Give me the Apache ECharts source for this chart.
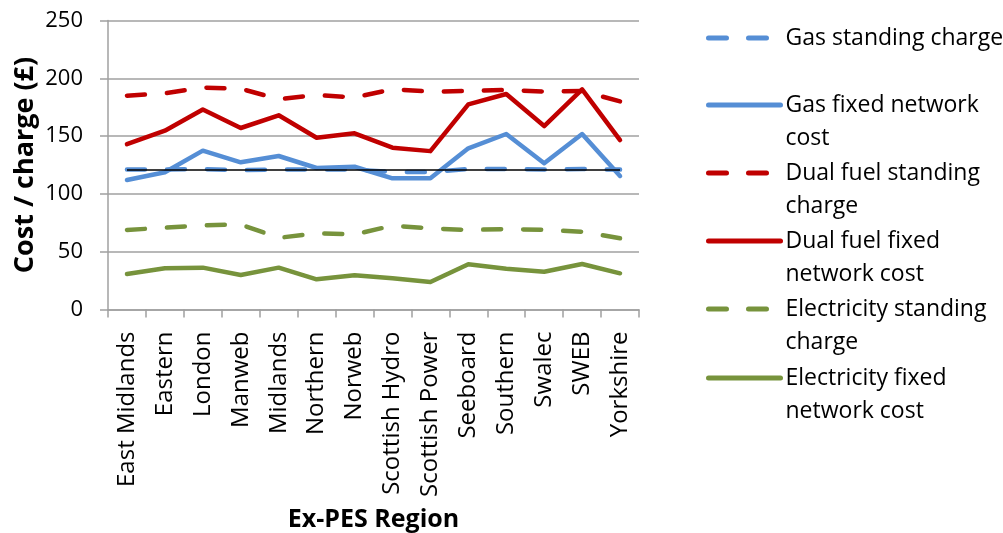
<!DOCTYPE html>
<html>
<head>
<meta charset="utf-8">
<script src="https://cdn.jsdelivr.net/npm/echarts@6/dist/echarts.min.js"></script>
<style>
  html, body { margin: 0; padding: 0; background: #fff; }
  #chart { width: 1003px; height: 533px; }
</style>
</head>
<body>
<div id="chart"></div>
<script>
// Ex-PES regions
const regions = ['East Midlands', 'Eastern', 'London', 'Manweb', 'Midlands', 'Northern', 'Norweb',
  'Scottish Hydro', 'Scottish Power', 'Seeboard', 'Southern', 'Swalec', 'SWEB', 'Yorkshire'];

// Costs / charges in £ per region
const gasStanding      = [121, 121, 121.5, 120.5, 121, 121, 121, 119, 119, 121.5, 121.5, 121, 121.5, 121];
const gasFixed         = [112, 118.7, 137.4, 127.3, 132.8, 122.4, 123.5, 113.5, 113.5, 139.4, 151.8, 126.5, 151.8, 115.5];
const dualStanding     = [185, 187, 192, 191, 182, 185.5, 183.5, 190.5, 188.5, 189, 190, 188.5, 189, 180];
const dualFixed        = [143, 154.7, 173, 157, 168, 148.6, 152.4, 140, 137, 177.5, 186.4, 158.7, 190.5, 146.6];
const elecStanding     = [68.8, 70.8, 72.8, 73.5, 62, 65.9, 65, 72.5, 70.2, 68.8, 69.6, 68.9, 67.3, 61.6];
const elecFixed        = [30.7, 35.6, 36.2, 29.8, 36.2, 26.1, 29.6, 27, 23.8, 39.1, 35.3, 32.7, 39.4, 31.3];
const referenceLevel   = [120.6, 120.6, 120.6, 120.6, 120.6, 120.6, 120.6, 120.6, 120.6, 120.6, 120.6, 120.6, 120.6, 120.6];

// Legend labels, wrapped beside the plot; a leading blank line keeps the
// key line level with the first line of a two-line label
const legendLabels = {
  'Gas standing charge': 'Gas standing charge',
  'Gas fixed network cost': ' \nGas fixed network\ncost',
  'Dual fuel standing charge': ' \nDual fuel standing\ncharge',
  'Dual fuel fixed network cost': ' \nDual fuel fixed\nnetwork cost',
  'Electricity standing charge': ' \nElectricity standing\ncharge',
  'Electricity fixed network cost': ' \nElectricity fixed\nnetwork cost'
};
const legendTops = [21.5, 55.5, 123.5, 191.5, 259.5, 328.5];

const FONT = '"Open Sans", "Noto Sans", sans-serif';
const BLUE = '#558ED5';
const RED = '#C00000';
const GREEN = '#77933C';
const DASH = [18, 22];

function lineSeries(name, data, color, dashed) {
  return {
    name: name,
    type: 'line',
    data: data,
    symbol: 'none',
    smooth: false,
    lineStyle: { color: color, width: 4.5, type: dashed ? DASH : 'solid', cap: 'round', join: 'round' },
    itemStyle: { color: color },
    emphasis: { disabled: true }
  };
}

const names = Object.keys(legendLabels);
const legends = names.map(function (n, i) {
  return {
    data: [n],
    orient: 'vertical',
    left: 706,
    top: legendTops[i],
    padding: 0,
    itemWidth: 72,
    itemHeight: 6,
    itemStyle: { opacity: 0 },
    lineStyle: { width: 5, cap: 'round' },
    formatter: function (name) { return legendLabels[name]; },
    textStyle: { fontFamily: FONT, fontSize: 23, color: '#000', lineHeight: 33 },
    selectedMode: false
  };
});

const chart = echarts.init(document.getElementById('chart'), null, { renderer: 'canvas' });
chart.setOption({
  animation: false,
  backgroundColor: '#fff',
  legend: legends,
  grid: { left: 108, right: 364, top: 20.5, bottom: 223.5, containLabel: false, outerBoundsMode: 'none' },
  xAxis: {
    type: 'category',
    data: regions,
    boundaryGap: true,
    name: 'Ex-PES Region',
    nameLocation: 'middle',
    nameGap: 198,
    nameMoveOverlap: false,
    nameTextStyle: { fontFamily: FONT, fontSize: 25, fontWeight: 'bold', color: '#000' },
    axisLine: { lineStyle: { color: '#A0A0A0', width: 1.5 } },
    axisTick: { show: true, length: 8, alignWithLabel: false, lineStyle: { color: '#A0A0A0', width: 1.5 } },
    axisLabel: { rotate: 90, fontFamily: FONT, fontSize: 24, color: '#000', margin: 22, interval: 0 },
    splitLine: { show: false }
  },
  yAxis: {
    type: 'value',
    min: 0,
    max: 250,
    interval: 50,
    name: 'Cost / charge (£)',
    nameLocation: 'middle',
    nameGap: 69,
    nameRotate: 90,
    nameMoveOverlap: false,
    nameTextStyle: { fontFamily: FONT, fontSize: 27, fontWeight: 'bold', color: '#000' },
    axisLine: { show: true, lineStyle: { color: '#A0A0A0', width: 1.5 } },
    axisTick: { show: true, length: 8, lineStyle: { color: '#A0A0A0', width: 1.5 } },
    axisLabel: { fontFamily: FONT, fontSize: 22, color: '#000', margin: 25 },
    splitLine: { show: true, lineStyle: { color: '#A0A0A0', width: 1.5 } }
  },
  series: [
    lineSeries('Gas standing charge', gasStanding, BLUE, true),
    lineSeries('Gas fixed network cost', gasFixed, BLUE, false),
    lineSeries('Dual fuel standing charge', dualStanding, RED, true),
    lineSeries('Dual fuel fixed network cost', dualFixed, RED, false),
    lineSeries('Electricity standing charge', elecStanding, GREEN, true),
    lineSeries('Electricity fixed network cost', elecFixed, GREEN, false),
    {
      name: 'Reference level',
      type: 'line',
      data: referenceLevel,
      symbol: 'none',
      lineStyle: { color: '#000', width: 1.5 },
      itemStyle: { color: '#000' },
      emphasis: { disabled: true }
    }
  ]
});
</script>
</body>
</html>
